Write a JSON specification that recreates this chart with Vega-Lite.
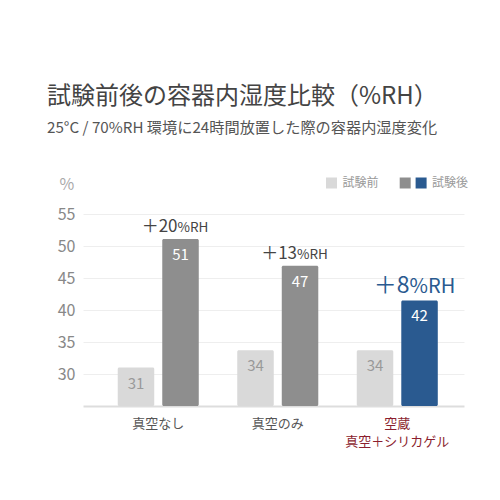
{
  "$schema": "https://vega.github.io/schema/vega-lite/v6.json",
  "width": 381,
  "height": 192,
  "autosize": {"type": "none"},
  "padding": {"left": 83, "top": 214, "right": 36, "bottom": 94},
  "background": "white",
  "config": {
    "font": "Noto Sans CJK JP",
    "view": {"stroke": null}
  },
  "title": {
    "text": "試験前後の容器内湿度比較（%RH）",
    "subtitle": "25°C / 70%RH 環境に24時間放置した際の容器内湿度変化",
    "anchor": "start",
    "frame": "group",
    "orient": "top",
    "dx": -36,
    "offset": 40,
    "fontSize": 24,
    "fontWeight": "normal",
    "color": "#444444",
    "subtitleFontSize": 15.2,
    "subtitleColor": "#555555",
    "subtitlePadding": 12
  },
  "datasets": {
    "bars": [
      {"cat": "真空なし", "phase": "試験前", "series": "試験前", "value": 31.0, "label": "31"},
      {"cat": "真空なし", "phase": "試験後", "series": "試験後A", "value": 51.1, "label": "51"},
      {"cat": "真空のみ", "phase": "試験前", "series": "試験前", "value": 33.7, "label": "34"},
      {"cat": "真空のみ", "phase": "試験後", "series": "試験後A", "value": 46.9, "label": "47"},
      {"cat": "空蔵|真空＋シリカゲル", "phase": "試験前", "series": "試験前", "value": 33.7, "label": "34"},
      {"cat": "空蔵|真空＋シリカゲル", "phase": "試験後", "series": "試験後", "value": 41.5, "label": "42"}
    ],
    "notes": [
      {"cat": "真空なし", "phase": "試験後", "value": 51.1, "big": "＋20", "small": "%RH", "hl": false},
      {"cat": "真空のみ", "phase": "試験後", "value": 46.9, "big": "＋13", "small": "%RH", "hl": false},
      {"cat": "空蔵|真空＋シリカゲル", "phase": "試験後", "value": 41.5, "big": "＋8", "small": "%RH", "hl": true}
    ]
  },
  "encoding": {
    "x": {
      "field": "cat",
      "type": "nominal",
      "sort": null,
      "scale": {"paddingInner": 0.322, "paddingOuter": 0.255, "align": 0.57},
      "axis": {
        "title": null,
        "labelAngle": 0,
        "ticks": false,
        "domain": true,
        "domainColor": "#dddddd",
        "domainWidth": 2,
        "labelPadding": 11,
        "labelFontSize": 13,
        "labelLineHeight": 18,
        "labelBaseline": "top",
        "labelColor": {"condition": {"test": "indexof(datum.value, '空蔵') >= 0", "value": "#8b1e2e"}, "value": "#555555"},
        "labelExpr": "split(datum.label, '|')"
      }
    },
    "xOffset": {
      "field": "phase",
      "type": "nominal",
      "sort": ["試験前", "試験後"],
      "scale": {"paddingInner": 0.18, "paddingOuter": 0}
    },
    "y": {
      "field": "value",
      "type": "quantitative",
      "scale": {"domain": [25, 55], "nice": false, "zero": false},
      "axis": {
        "values": [30, 35, 40, 45, 50, 55],
        "grid": true,
        "gridColor": "#eeeeee",
        "domain": false,
        "ticks": false,
        "labelPadding": 8,
        "labelFontSize": 16,
        "labelColor": "#888888",
        "title": "%",
        "titleAngle": 0,
        "titleAlign": "left",
        "titleBaseline": "alphabetic",
        "titleX": -24,
        "titleY": -25,
        "titleFontSize": 16,
        "titleFontWeight": "normal",
        "titleColor": "#aaaaaa"
      }
    }
  },
  "layer": [
    {
      "data": {"name": "bars"},
      "mark": {"type": "bar", "cornerRadius": 1.5},
      "encoding": {
        "y2": {"datum": 25},
        "color": {
          "field": "series",
          "type": "nominal",
          "scale": {"domain": ["試験前", "試験後A", "試験後"], "range": ["#d9d9d9", "#8e8e8e", "#2a5a90"]},
          "legend": {
            "title": null,
            "orient": "none",
            "direction": "horizontal",
            "legendX": 243,
            "legendY": -37,
            "padding": 0,
            "symbolType": "square",
            "symbolSize": 121,
            "symbolStrokeWidth": 0,
            "symbolOpacity": 1,
            "labelFontSize": 12,
            "labelColor": "#999999",
            "labelOffset": 4.5,
            "columnPadding": 4.3,
            "labelExpr": "datum.label == '試験後A' ? '' : datum.label",
            "encode": {
              "symbols": {
                "update": {
                  "x": {"signal": "datum.value == '試験後A' ? 21.9 : 5.5"}
                }
              }
            }
          }
        }
      }
    },
    {
      "data": {"name": "bars"},
      "mark": {"type": "text", "baseline": "middle", "align": "center", "dy": 16, "fontSize": 15},
      "encoding": {
        "text": {"field": "label"},
        "color": {"condition": {"test": "datum.phase == '試験前'", "value": "#999999"}, "value": "#ffffff"}
      }
    },
    {
      "data": {"name": "notes"},
      "transform": [{"filter": "!datum.hl"}],
      "mark": {"type": "text", "align": "right", "baseline": "alphabetic", "dx": -3, "dy": -6.5, "fontSize": 17, "color": "#444444"},
      "encoding": {"text": {"field": "big"}}
    },
    {
      "data": {"name": "notes"},
      "transform": [{"filter": "!datum.hl"}],
      "mark": {"type": "text", "align": "left", "baseline": "alphabetic", "dx": -3, "dy": -6.5, "fontSize": 13.5, "color": "#444444"},
      "encoding": {"text": {"field": "small"}}
    },
    {
      "data": {"name": "notes"},
      "transform": [{"filter": "datum.hl"}],
      "mark": {"type": "text", "align": "right", "baseline": "alphabetic", "dx": -10, "dy": -7.5, "fontSize": 23, "color": "#2a5a90"},
      "encoding": {"text": {"field": "big"}}
    },
    {
      "data": {"name": "notes"},
      "transform": [{"filter": "datum.hl"}],
      "mark": {"type": "text", "align": "left", "baseline": "alphabetic", "dx": -10, "dy": -7.5, "fontSize": 20, "color": "#2a5a90"},
      "encoding": {"text": {"field": "small"}}
    }
  ]
}
